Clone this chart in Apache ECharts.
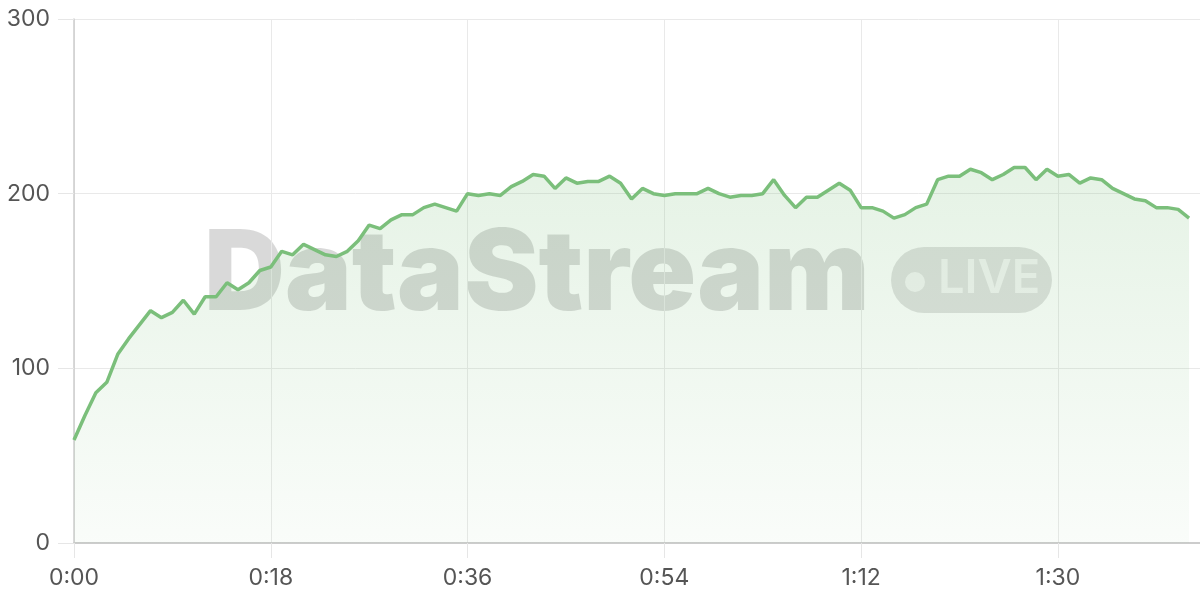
<!DOCTYPE html>
<html>
<head>
<meta charset="utf-8">
<script src="https://cdn.jsdelivr.net/npm/echarts@6/dist/echarts.min.js"></script>
<style>
  html, body { margin: 0; padding: 0; background: #fff; }
  #container { width: 1200px; height: 600px; }
</style>
</head>
<body>
<div id="container"></div>
<script>
// 每秒一个采样点，时间单位为秒
var seconds = [
  0, 1, 2, 3, 4, 5, 6, 7, 8, 9, 10, 11, 12, 13, 14, 15, 16, 17, 18, 19,
  20, 21, 22, 23, 24, 25, 26, 27, 28, 29, 30, 31, 32, 33, 34, 35, 36, 37, 38, 39,
  40, 41, 42, 43, 44, 45, 46, 47, 48, 49, 50, 51, 52, 53, 54, 55, 56, 57, 58, 59,
  60, 61, 62, 63, 64, 65, 66, 67, 68, 69, 70, 71, 72, 73, 74, 75, 76, 77, 78, 79,
  80, 81, 82, 83, 84, 85, 86, 87, 88, 89, 90, 91, 92, 93, 94, 95, 96, 97, 98, 99,
  100, 101, 102
];
var values = [
  59, 73, 86, 92, 108, 117, 125, 133, 129, 132, 139, 131, 141, 141, 149, 145, 149, 156, 158, 167,
  165, 171, 168, 165, 164, 167, 173, 182, 180, 185, 188, 188, 192, 194, 192, 190, 200, 199, 200, 199,
  204, 207, 211, 210, 203, 209, 206, 207, 207, 210, 206, 197, 203, 200, 199, 200, 200, 200, 203, 200,
  198, 199, 199, 200, 208, 199, 192, 198, 198, 202, 206, 202, 192, 192, 190, 186, 188, 192, 194, 208,
  210, 210, 214, 212, 208, 211, 215, 215, 208, 214, 210, 211, 206, 209, 208, 203, 200, 197, 196, 192,
  192, 191, 186
];
var yTicks = [0, 100, 200, 300];

var fontFamily = 'Inter, "Noto Sans", sans-serif';

function fmtTime(v) {
  var m = Math.floor(v / 60);
  var s = Math.round(v % 60);
  return m + ':' + (s < 10 ? '0' + s : s);
}

var seriesData = seconds.map(function(t, i) { return [t, values[i]]; });

var myChart = echarts.init(document.getElementById('container'));
var option = {
  animation: false,
  backgroundColor: '#fff',
  grid: { left: 74, right: 0, top: 19, bottom: 57 },
  // 水印
  graphic: [
    {
      type: 'text', z: 0, left: 204, top: 220,
      style: {
        text: 'DataStream', fill: 'rgba(0,0,0,0.15)',
        font: '900 112px ' + fontFamily
      }
    },
    {
      type: 'rect', z: 0, left: 891, top: 247,
      shape: { width: 161, height: 66, r: 33 },
      style: { fill: 'rgba(0,0,0,0.12)' }
    },
    {
      type: 'circle', z: 1, left: 905, top: 272,
      shape: { r: 10 },
      style: { fill: 'rgba(255,255,255,0.65)' }
    },
    {
      type: 'text', z: 1, left: 938, top: 255,
      style: {
        text: 'LIVE', fill: 'rgba(255,255,255,0.65)',
        font: '600 47px ' + fontFamily
      }
    }
  ],
  xAxis: {
    type: 'value',
    min: 0,
    max: 103,
    interval: 18,
    axisLine: { show: true, lineStyle: { color: '#cccccc', width: 2 } },
    axisTick: { show: true, length: 15, lineStyle: { color: '#e6e6e6' } },
    splitLine: { show: true, lineStyle: { color: '#e9e9e9' } },
    axisLabel: {
      showMaxLabel: false,
      margin: 24,
      color: '#555',
      fontSize: 23,
      fontFamily: fontFamily,
      formatter: fmtTime
    }
  },
  yAxis: {
    type: 'value',
    min: yTicks[0],
    max: yTicks[yTicks.length - 1],
    interval: 100,
    axisLine: { show: true, lineStyle: { color: '#cccccc', width: 1.5 } },
    axisTick: { show: true, length: 16, lineStyle: { color: '#e6e6e6' } },
    splitLine: { show: true, lineStyle: { color: '#e9e9e9' } },
    axisLabel: {
      margin: 24,
      color: '#555',
      fontSize: 23,
      fontFamily: fontFamily
    }
  },
  series: [{
    type: 'line',
    data: seriesData,
    showSymbol: false,
    symbol: 'none',
    lineStyle: { color: '#7bbf7b', width: 3.5 },
    areaStyle: {
      color: new echarts.graphic.LinearGradient(0, 0, 0, 1, [
        { offset: 0, color: 'rgba(123,191,123,0.28)' },
        { offset: 1, color: 'rgba(123,191,123,0.06)' }
      ])
    }
  }]
};
myChart.setOption(option);
</script>
</body>
</html>
